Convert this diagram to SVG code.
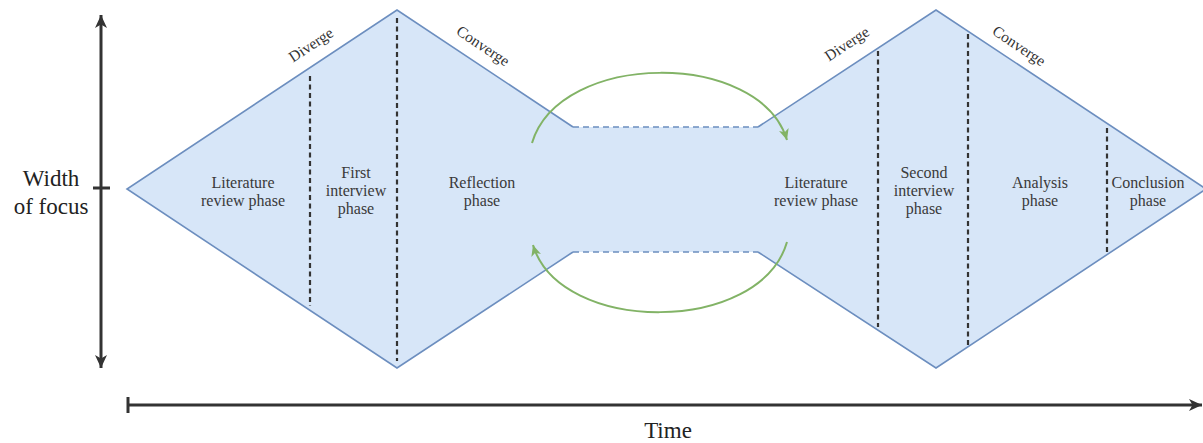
<svg xmlns="http://www.w3.org/2000/svg" width="1203" height="443" viewBox="0 0 1203 443">
<style>
.fill{fill:#d7e6f8;stroke:none}
.edge{fill:none;stroke:#6c8ebf;stroke-width:1.6;stroke-linejoin:miter}
.edash{fill:none;stroke:#6c8ebf;stroke-width:1.6;stroke-dasharray:6 4}
.div{fill:none;stroke:#333;stroke-width:2.2;stroke-dasharray:5 3.5}
.lbl{font-family:"Liberation Serif","Times New Roman",serif;font-size:16px;fill:#3a3a3a;text-anchor:middle}
.rot{font-family:"Liberation Serif","Times New Roman",serif;font-size:15.5px;fill:#333;text-anchor:middle}
.ax{font-family:"Liberation Serif","Times New Roman",serif;font-size:23px;fill:#222;text-anchor:middle}
.axis{fill:none;stroke:#333;stroke-width:3}
.green{fill:none;stroke:#82b366;stroke-width:2}
</style>
<defs>
<marker id="ga" markerUnits="userSpaceOnUse" markerWidth="14" markerHeight="12" refX="11" refY="5" orient="auto">
<path d="M0,0 L11,5 L0,10 L3,5 Z" fill="#82b366"/>
</marker>
<marker id="ka" markerUnits="userSpaceOnUse" markerWidth="16" markerHeight="14" refX="13" refY="6" orient="auto">
<path d="M0,0 L13,6 L0,12 L3.5,6 Z" fill="#333"/>
</marker>
</defs>

<g id="shape">
<polygon class="fill" points="127,189 397,10 573,127 758,127 936,10 1206,189 936,368 758,252 573,252 397,368"/>
<polyline class="edge" points="573,127 397,10 127,189 397,368 573,252"/>
<polyline class="edge" points="758,127 936,10 1206,189 936,368 758,252"/>
<line class="edash" x1="573" y1="127" x2="758" y2="127"/>
<line class="edash" x1="573" y1="252" x2="758" y2="252"/>
</g>

<g id="dividers">
<line class="div" x1="310" y1="76" x2="310" y2="306"/>
<line class="div" x1="397" y1="18" x2="397" y2="361"/>
<line class="div" x1="878" y1="51" x2="878" y2="327"/>
<line class="div" x1="968" y1="34" x2="968" y2="345"/>
<line class="div" x1="1107" y1="128" x2="1107" y2="252"/>
</g>

<g id="edge-labels">
<text class="rot" transform="translate(311,45) rotate(-33.5)" y="5">Diverge</text>
<text class="rot" transform="translate(483,46) rotate(33.5)" y="5">Converge</text>
<text class="rot" transform="translate(847,44) rotate(-33.5)" y="5">Diverge</text>
<text class="rot" transform="translate(1019,46) rotate(33.5)" y="5">Converge</text>
</g>

<g id="lit-review-1"><text class="lbl" x="243" y="188">Literature</text><text class="lbl" x="243" y="206">review phase</text></g>
<g id="first-interview"><text class="lbl" x="356" y="178">First</text><text class="lbl" x="356" y="196">interview</text><text class="lbl" x="356" y="214">phase</text></g>
<g id="reflection"><text class="lbl" x="482" y="188">Reflection</text><text class="lbl" x="482" y="206">phase</text></g>
<g id="lit-review-2"><text class="lbl" x="816" y="188">Literature</text><text class="lbl" x="816" y="206">review phase</text></g>
<g id="second-interview"><text class="lbl" x="924" y="178">Second</text><text class="lbl" x="924" y="196">interview</text><text class="lbl" x="924" y="214">phase</text></g>
<g id="analysis"><text class="lbl" x="1040" y="188">Analysis</text><text class="lbl" x="1040" y="206">phase</text></g>
<g id="conclusion"><text class="lbl" x="1148" y="188">Conclusion</text><text class="lbl" x="1148" y="206">phase</text></g>

<g id="connectors">
<path class="green" d="M532,143 C560,50 760,50 787,140" marker-end="url(#ga)"/>
<path class="green" d="M787,242 C760,335 560,335 533,245" marker-end="url(#ga)"/>
</g>

<g id="axes">
<line class="axis" x1="101" y1="189" x2="101" y2="15" marker-end="url(#ka)"/>
<line class="axis" x1="101" y1="189" x2="101" y2="368" marker-end="url(#ka)"/>
<line class="axis" x1="93" y1="188" x2="110" y2="188"/>
<line class="axis" x1="128" y1="405" x2="1202" y2="405" marker-end="url(#ka)"/>
<line class="axis" x1="128" y1="397" x2="128" y2="413"/>
<text class="ax" x="51" y="186">Width</text>
<text class="ax" x="51" y="214">of focus</text>
<text class="ax" x="668" y="438">Time</text>
</g>
</svg>
